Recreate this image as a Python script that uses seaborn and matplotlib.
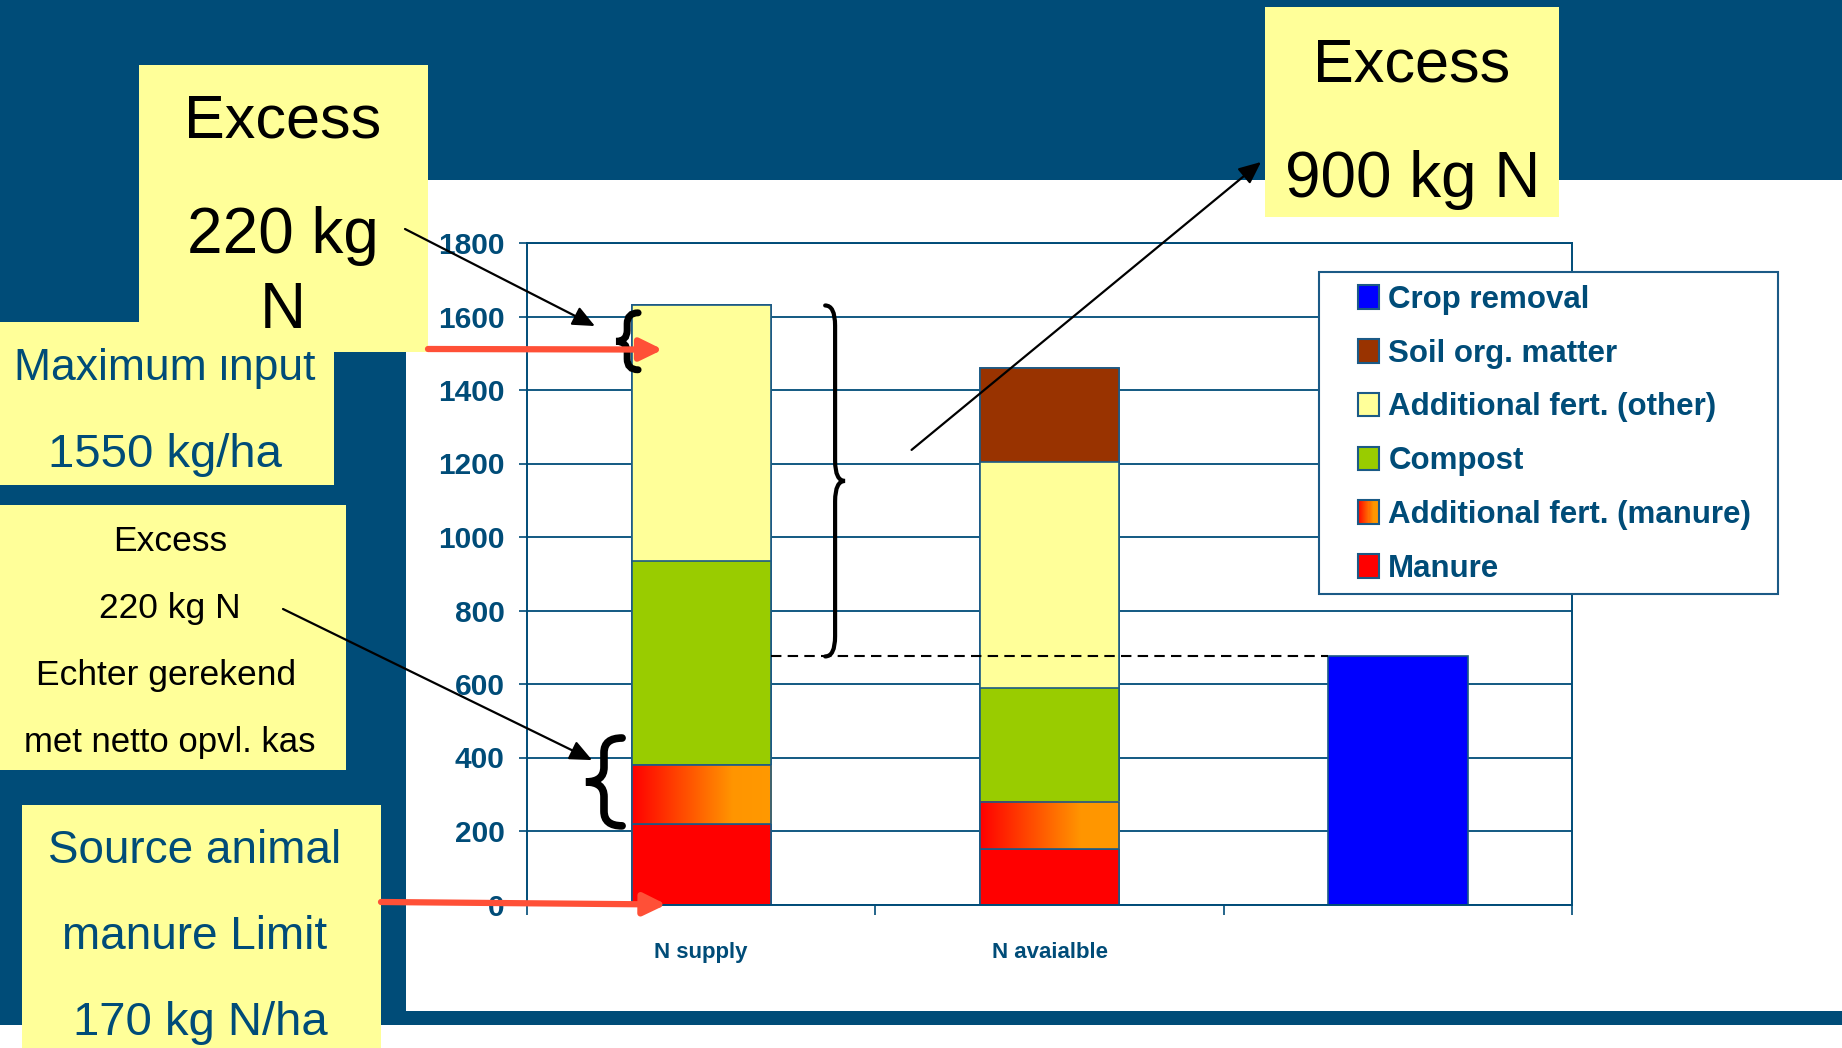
import matplotlib.pyplot as plt
import numpy as np
import pandas as pd
import seaborn as sns
from matplotlib.colors import LinearSegmentedColormap
from matplotlib.legend_handler import HandlerBase
from matplotlib.patches import Patch, PathPatch, Rectangle
from matplotlib.path import Path

W, H = 1842, 1048

# chart data (kg N/ha)
categories = ["N supply", "N avaialble", "Crop removal"]
tick_labels = ["N supply", "N avaialble", ""]
manure = [220, 150, 0]
additional_manure = [160, 130, 0]
compost = [555, 310, 0]
additional_other = [695, 615, 0]
soil_organic_matter = [0, 255, 0]
crop_removal = [0, 0, 675]

series_names = ["Manure", "Additional fert. (manure)", "Compost",
                "Additional fert. (other)", "Soil org. matter", "Crop removal"]
series_values = [manure, additional_manure, compost, additional_other,
                 soil_organic_matter, crop_removal]
series_colors = ["#FF0000", "#FF6A00", "#99CC00", "#FFFF99", "#993300", "#0000FF"]
y_ticks = list(range(0, 2000, 200))

# annotation levels
max_input_level = 1510
upper_brace = (1455, 1610)
lower_brace = (214, 453)

NAVY = "#004C78"
EDGE = "#1B5A86"
YELLOW = "#FFFF99"
RED_ARROW = "#FF5037"
FONT = ["Liberation Sans", "DejaVu Sans"]

grad_cmap = LinearSegmentedColormap.from_list(
    "manure_grad", [(0, "#FF0000"), (0.72, "#FF9500"), (1, "#FF9900")])


class GradientHandler(HandlerBase):
    def create_artists(self, legend, orig_handle, xdescent, ydescent,
                       width, height, fontsize, trans):
        n = 20
        arts = []
        for i in range(n):
            arts.append(Rectangle((-xdescent + i * width / n, -ydescent), width / n + 0.3, height,
                                  facecolor=grad_cmap((i + 0.5) / n), edgecolor="none",
                                  transform=trans))
        arts.append(Rectangle((-xdescent, -ydescent), width, height, facecolor="none",
                              edgecolor=EDGE, lw=1.5, transform=trans))
        return arts


def brace(ax, x_end, x_tip, y0, y1, curl, lw):
    xm = (x_end + x_tip) / 2
    ym = (y0 + y1) / 2
    verts = [(x_end, y1), (xm, y1), (xm, y1 - curl),
             (xm, ym + curl), (xm, ym), (x_tip, ym),
             (xm, ym), (xm, ym - curl),
             (xm, y0 + curl), (xm, y0), (x_end, y0)]
    codes = [Path.MOVETO, Path.CURVE3, Path.CURVE3, Path.LINETO, Path.CURVE3, Path.CURVE3,
             Path.CURVE3, Path.CURVE3, Path.LINETO, Path.CURVE3, Path.CURVE3]
    ax.add_patch(PathPatch(Path(verts, codes), facecolor="none", edgecolor="black",
                           lw=lw, capstyle="round", zorder=4, clip_on=False))


sns.set_style("ticks")
plt.rcParams["font.family"] = FONT

fig = plt.figure(figsize=(W / 100, H / 100), dpi=100, facecolor=NAVY)

# slide background
bg = fig.add_axes([0, 0, 1, 1], zorder=0)
bg.set_xlim(0, W)
bg.set_ylim(H, 0)
bg.axis("off")
bg.add_patch(Rectangle((406, 180), W - 406, 831, facecolor="white", edgecolor="none"))
bg.add_patch(Rectangle((0, 1025), W, 23, facecolor="white", edgecolor="none"))

# chart
ax = fig.add_axes([527 / W, 1 - 904.5 / H, 1045 / W, 661.5 / H], zorder=1)
ax.set_facecolor("white")

df = pd.DataFrame(dict(zip(series_names, series_values)), index=categories)
cum = df.cumsum(axis=1)

layers = {}
for name, color in reversed(list(zip(series_names, series_colors))):
    n0 = len(ax.patches)
    sns.barplot(x=categories, y=cum[name].values, order=categories, color=color,
                saturation=1, width=0.4, edgecolor=EDGE, linewidth=1.2,
                errorbar=None, ax=ax)
    layers[name] = ax.patches[n0:]

# gradient fill for additional fert. (manure)
grad = np.linspace(0, 1, 256).reshape(1, -1)
for p, base in zip(layers["Additional fert. (manure)"], cum["Manure"].values):
    top = p.get_height()
    if top - base <= 0:
        continue
    x0, w = p.get_x(), p.get_width()
    ax.imshow(grad, extent=(x0, x0 + w, base, top), cmap=grad_cmap, aspect="auto",
              zorder=1.05, interpolation="bicubic")
    ax.add_patch(Rectangle((x0, base), w, top - base, facecolor="none",
                           edgecolor=EDGE, lw=1.2, zorder=1.1))

# crop removal level
ax.hlines(crop_removal[2], 0.2, 1.8, colors="black", linestyles=(0, (5, 3)),
          lw=1.5, zorder=3)

ax.set_xlim(-0.5, 2.5)
ax.set_ylim(0, 1800)
ax.set_yticks(y_ticks)
ax.set_xticks([0, 1, 2])
ax.set_xticklabels(tick_labels)
ax.set_xticks([-0.5, 0.5, 1.5, 2.5], minor=True)
ax.set_xlabel("")
ax.set_ylabel("")
ax.set_axisbelow(True)
ax.yaxis.grid(True, color=NAVY, lw=1.3)
for s in ax.spines.values():
    s.set_visible(True)
    s.set_color(NAVY)
    s.set_linewidth(1.4)
ax.tick_params(axis="y", length=6, width=1.2, color=NAVY, pad=10,
               labelsize=21.5, labelcolor=NAVY)
ax.tick_params(axis="x", which="major", length=0, pad=27, labelsize=16, labelcolor=NAVY)
ax.tick_params(axis="x", which="minor", length=7, width=1.2, color=NAVY)
for t in ax.get_yticklabels() + ax.get_xticklabels():
    t.set_fontweight("bold")

# braces
brace(ax, 0.356, 0.413, crop_removal[2], cum.loc["N supply", "Soil org. matter"], 55, 3)
brace(ax, -0.181, -0.244, upper_brace[0], upper_brace[1], 30, 5)
brace(ax, -0.227, -0.331, lower_brace[0], lower_brace[1], 40, 5.5)

# overlay with text boxes and arrows
ov = fig.add_axes([0, 0, 1, 1], zorder=3)
ov.set_xlim(0, W)
ov.set_ylim(H, 0)
ov.axis("off")


def box(x0, y0, x1, y1, z):
    ov.add_patch(Rectangle((x0, y0), x1 - x0, y1 - y0, facecolor=YELLOW,
                           edgecolor="none", zorder=z))


def line(x, y, s, size, color, z):
    ov.text(x, y, s, ha="center", va="baseline", fontsize=size, color=color,
            family=FONT, zorder=z)


box(0, 322, 334, 485, 2)
line(165, 380, "Maximum input", 32, NAVY, 2.5)
line(165, 467, "1550 kg/ha", 34, NAVY, 2.5)

box(139, 65, 428, 352, 4)
line(283, 137, "Excess", 44, "black", 4.5)
line(283, 253, "220 kg", 46, "black", 4.5)
line(283, 328, "N", 46, "black", 4.5)

box(0, 505, 346, 770, 2)
line(170, 551, "Excess", 25.5, "black", 2.5)
line(170, 618, "220 kg N", 25.5, "black", 2.5)
line(166, 685, "Echter gerekend", 25.5, "black", 2.5)
line(170, 752, "met netto opvl. kas", 25, "black", 2.5)

box(22, 805, 381, H, 2)
line(195, 863, "Source animal", 33, NAVY, 2.5)
line(195, 949, "manure Limit", 33, NAVY, 2.5)
line(200, 1035, "170 kg N/ha", 34, NAVY, 2.5)

box(1265, 7, 1559, 217, 2)
line(1412, 81, "Excess", 44, "black", 2.5)
line(1413, 197, "900 kg N", 46, "black", 2.5)

black_arrow = dict(arrowstyle="-|>,head_length=0.45,head_width=0.2", color="black",
                   lw=1.6, mutation_scale=30, shrinkA=0, shrinkB=0)
red_arrow = dict(arrowstyle="-|>,head_length=0.45,head_width=0.22", color=RED_ARROW,
                 lw=4.5, mutation_scale=30, shrinkA=0, shrinkB=0)

ov.annotate("", xy=(-0.305, 1574), xycoords=ax.transData,
            xytext=(405, 229), textcoords=ov.transData, arrowprops=black_arrow, zorder=6)
ov.annotate("", xy=(-0.313, 393), xycoords=ax.transData,
            xytext=(283, 609), textcoords=ov.transData, arrowprops=black_arrow, zorder=6)
ov.annotate("", xy=(1261, 162), xycoords=ov.transData,
            xytext=(0.604, 1237), textcoords=ax.transData, arrowprops=black_arrow, zorder=6)
ov.annotate("", xy=(-0.11, max_input_level), xycoords=ax.transData,
            xytext=(428, 349), textcoords=ov.transData, arrowprops=red_arrow, zorder=6)
ov.annotate("", xy=(-0.10, 0), xycoords=ax.transData,
            xytext=(381, 902), textcoords=ov.transData, arrowprops=red_arrow, zorder=6)

# legend
ov.add_patch(Rectangle((1319, 272), 459, 322, facecolor="white", edgecolor=EDGE,
                       lw=1.5, zorder=3))
handles, labels, hmap = [], [], {}
for name, color in reversed(list(zip(series_names, series_colors))):
    h = Patch(facecolor=color, edgecolor=EDGE, lw=1.5)
    if name == "Additional fert. (manure)":
        hmap[h] = GradientHandler()
    handles.append(h)
    labels.append(name)
leg = ov.legend(handles, labels, handler_map=hmap, loc="upper left",
                bbox_to_anchor=(1358, 285), bbox_transform=ov.transData,
                frameon=False, borderpad=0, borderaxespad=0, handlelength=0.67,
                handleheight=0.77, handletextpad=0.3, labelspacing=0.76,
                prop=dict(family=FONT, weight="bold", size=22.5))
for t in leg.get_texts():
    t.set_color(NAVY)
leg.set_zorder(5)

fig.savefig("out.png", dpi=100, facecolor=NAVY)
